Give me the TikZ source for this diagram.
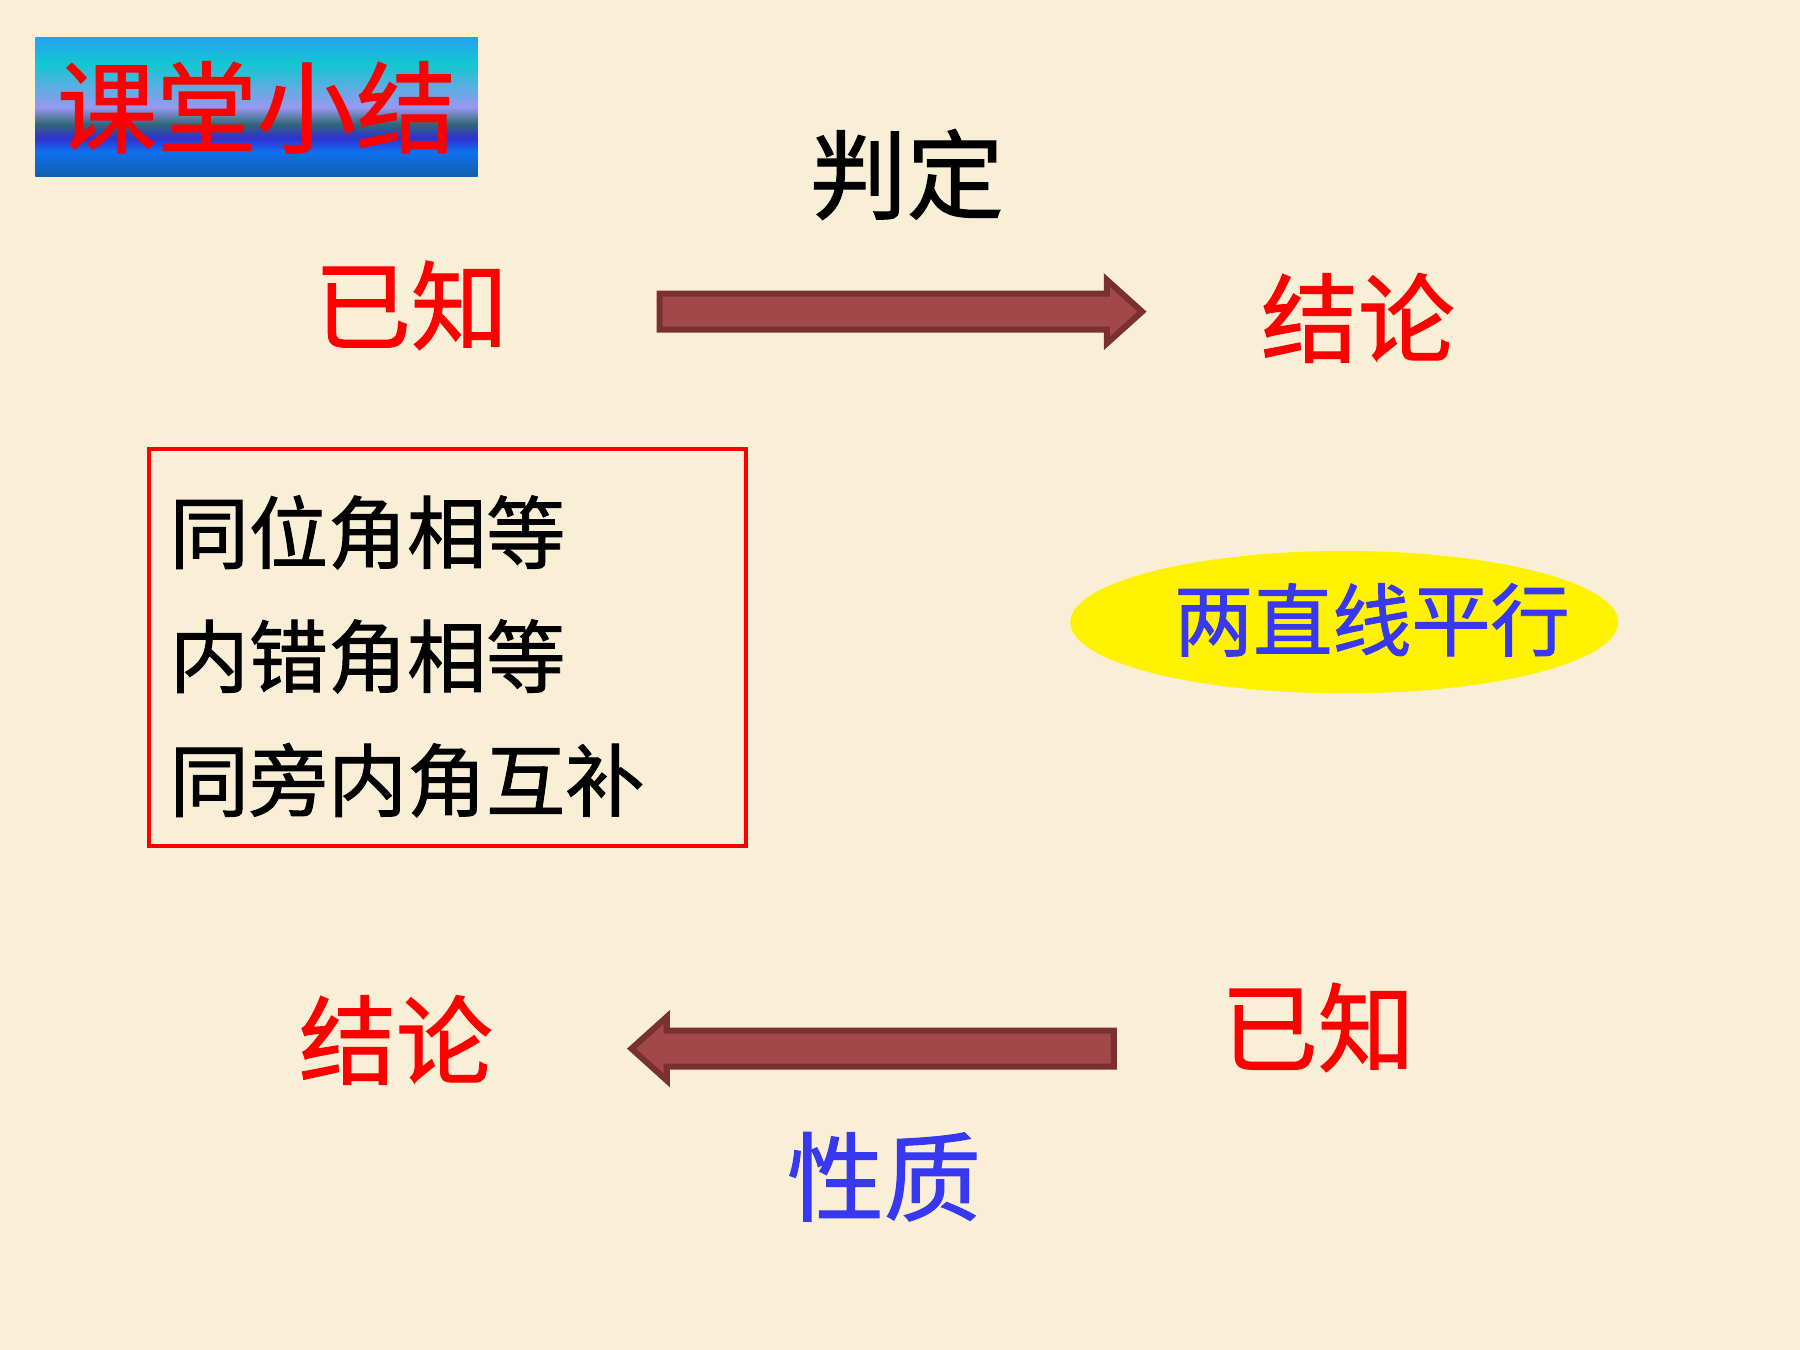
\documentclass[tikz,border=0pt]{standalone}
\usepackage{fontspec}
\setmainfont{Noto Sans CJK SC}[FakeBold=1.2]
\usepackage{xcolor}
\usetikzlibrary{shapes, shapes.geometric, shapes.arrows, positioning}

\definecolor{paper}{RGB}{249,239,214}
\definecolor{arrowfill}{RGB}{162,72,72}
\definecolor{arrowline}{RGB}{122,48,48}
\definecolor{textblue}{RGB}{56,56,240}
% title bar colours, top to bottom
\definecolor{tbA}{RGB}{40,160,240}
\definecolor{tbB}{RGB}{16,200,208}
\definecolor{tbC}{RGB}{152,152,240}
\definecolor{tbD}{RGB}{48,104,120}
\definecolor{tbE}{RGB}{48,48,208}
\definecolor{tbF}{RGB}{16,112,240}
\definecolor{tbG}{RGB}{16,96,168}
\pgfdeclareverticalshading{titlebar}{100bp}{%
  color(0bp)=(tbG); color(25bp)=(tbG); color(34bp)=(tbF);
  color(39bp)=(tbE); color(44bp)=(tbD); color(50bp)=(tbC);
  color(66bp)=(tbB); color(75bp)=(tbA); color(100bp)=(tbA)}

\begin{document}
\begin{tikzpicture}[
    x=0.01cm, y=-0.01cm,
    big/.style={font=\fontsize{24pt}{28pt}\selectfont, inner sep=0pt},
    mid/.style={font=\fontsize{19.6pt}{30.7pt}\selectfont, inner sep=0pt},
    fatarrow/.style={single arrow, draw=arrowline, line width=1.5pt, fill=arrowfill, minimum height=4.2cm, minimum width=0.55cm, inner xsep=0pt, inner ysep=0.13cm, single arrow head extend=0.12cm, single arrow tip angle=84, anchor=tail}
    ]

    % background
    \fill[paper] (0,0) rectangle (1568,1176);

    % title
    \node [shading=titlebar, minimum width=3.85cm, minimum height=1.21cm, inner sep=0pt, text=red, font=\fontsize{24.7pt}{28pt}\selectfont] (title) at (223.5,93.5) {课堂小结};

    % upper row: judgement
    \node [big] (judge) at (790,152) {判定};
    \node [big, text=red] (knownTop) at (358,266) {已知};
    \node [big, text=red] (conclTop) at (1183,277) {结论};
    \node [fatarrow] (arrowTop) at (572,271.5) {};

    % conditions
    \node [mid, draw=red, line width=1pt, text width=4.84cm, inner xsep=0.18cm, minimum height=3.46cm, align=left] (conditions) at (390,564) {\rule{0pt}{21pt}同位角相等\\内错角相等\\同旁内角互补};

    % parallel lines
    \node [ellipse, fill=yellow, minimum width=4.77cm, minimum height=1.24cm] (parallelBg) at (1171,542) {};
    \node [mid, text=textblue] (parallel) at (1195,540) {两直线平行};

    % lower row: property
    \node [big, text=red] (conclBot) at (345,906) {结论};
    \node [big, text=red] (knownBot) at (1148,895) {已知};
    \node [fatarrow, shape border rotate=180] (arrowBot) at (973,913.5) {};
    \node [big, text=textblue] (property) at (770,1025) {性质};

\end{tikzpicture}
\end{document}
